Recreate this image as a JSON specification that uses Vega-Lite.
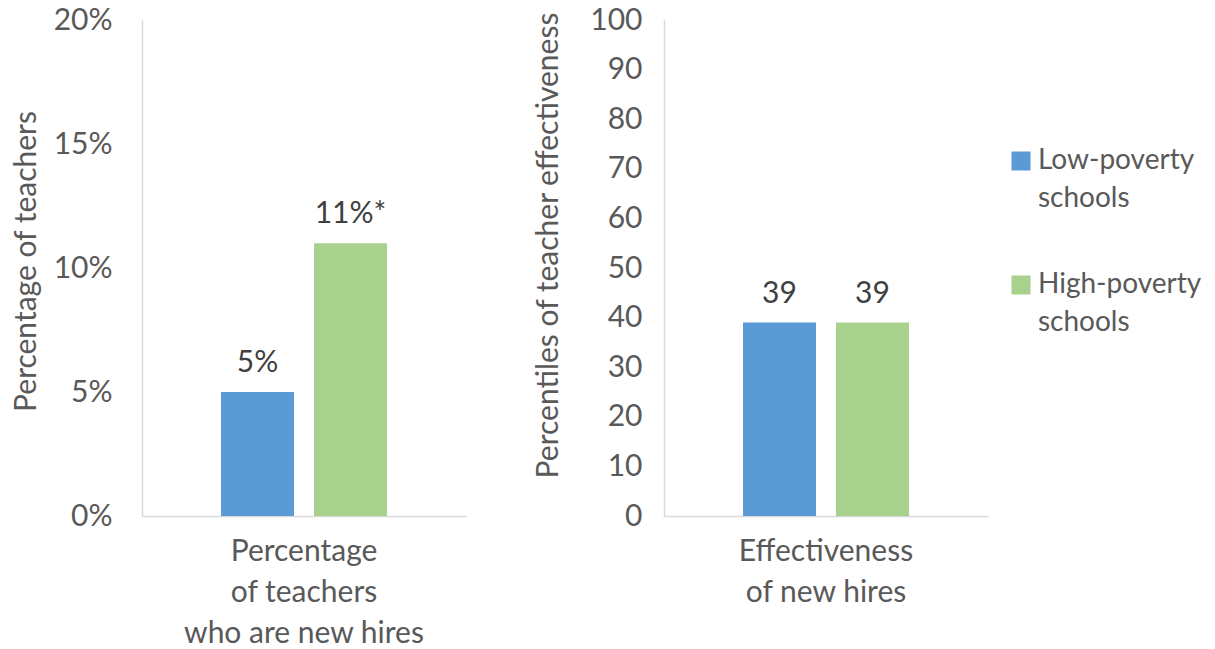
{
  "$schema": "https://vega.github.io/schema/vega-lite/v6.json",
  "background": "white",
  "padding": {"left": 11, "top": 5, "right": 5, "bottom": 5},
  "config": {
    "font": "Lato",
    "view": {"stroke": null},
    "style": {"guide-label": {"lineHeight": 38}},
    "axis": {
      "labelFont": "Lato", "titleFont": "Lato",
      "labelColor": "#595959", "titleColor": "#595959",
      "labelFontSize": 30, "titleFontSize": 30, "titleFontWeight": "normal",
      "domainColor": "#d9d9d9", "domainWidth": 1.5,
      "ticks": false, "grid": false, "labelLimit": 400
    },
    "concat": {"spacing": 67}
  },
  "datasets": {
    "newhires": [
      {"measure": "Percentage|of teachers|who are new hires", "school": "Low-poverty schools", "value": 0.05, "label": "5%"},
      {"measure": "Percentage|of teachers|who are new hires", "school": "High-poverty schools", "value": 0.11, "label": "11%*"}
    ],
    "effect": [
      {"measure": "Effectiveness|of new hires", "school": "Low-poverty schools", "value": 39, "label": "39"},
      {"measure": "Effectiveness|of new hires", "school": "High-poverty schools", "value": 39, "label": "39"}
    ]
  },
  "hconcat": [
    {
      "width": 324, "height": 496,
      "data": {"name": "newhires"},
      "encoding": {
        "x": {"field": "measure", "type": "nominal",
          "scale": {"paddingInner": 0, "paddingOuter": 0.476},
          "axis": {"title": null, "labelAngle": 0, "labelExpr": "split(datum.value, '|')", "labelLineHeight": 41, "labelPadding": 20, "labelBaseline": "top"}},
        "xOffset": {"field": "school", "type": "nominal",
          "scale": {"domain": ["Low-poverty schools", "High-poverty schools"], "paddingInner": 0.215, "paddingOuter": 0}},
        "y": {"field": "value", "type": "quantitative",
          "scale": {"domain": [0, 0.2]},
          "axis": {"title": "Percentage of teachers", "format": ".0%", "values": [0, 0.05, 0.1, 0.15, 0.2], "labelPadding": 30, "titlePadding": 12, "titleY": 241}}
      },
      "layer": [
        {"mark": {"type": "bar"},
         "encoding": {"color": {"field": "school", "type": "nominal",
           "scale": {"domain": ["Low-poverty schools", "High-poverty schools"], "range": ["#5B9BD5", "#A9D18E"]},
           "legend": {"orient": "none", "legendX": 865, "legendY": 127, "title": null, "symbolType": "square", "symbolSize": 361, "symbolStrokeWidth": 0,
             "labelFont": "Lato", "labelFontSize": 28, "labelColor": "#595959", "labelExpr": "split(datum.label, ' ')", "rowPadding": 58, "labelOffset": 3, "labelLimit": 300}}}},
        {"mark": {"type": "text", "baseline": "alphabetic", "dy": -20, "fontSize": 30, "color": "#404040"},
         "encoding": {"text": {"field": "label"}}}
      ]
    },
    {
      "width": 324, "height": 496,
      "data": {"name": "effect"},
      "encoding": {
        "x": {"field": "measure", "type": "nominal",
          "scale": {"paddingInner": 0, "paddingOuter": 0.476},
          "axis": {"title": null, "labelAngle": 0, "labelExpr": "split(datum.value, '|')", "labelLineHeight": 41, "labelPadding": 20, "labelBaseline": "top"}},
        "xOffset": {"field": "school", "type": "nominal",
          "scale": {"domain": ["Low-poverty schools", "High-poverty schools"], "paddingInner": 0.215, "paddingOuter": 0}},
        "y": {"field": "value", "type": "quantitative",
          "scale": {"domain": [0, 100]},
          "axis": {"title": "Percentiles of teacher effectiveness", "values": [0, 10, 20, 30, 40, 50, 60, 70, 80, 90, 100], "labelPadding": 22, "titlePadding": 26, "titleY": 225}}
      },
      "layer": [
        {"mark": {"type": "bar"},
         "encoding": {"color": {"field": "school", "type": "nominal"}}},
        {"mark": {"type": "text", "baseline": "alphabetic", "dy": -20, "fontSize": 30, "color": "#404040"},
         "encoding": {"text": {"field": "label"}}}
      ]
    }
  ]
}
